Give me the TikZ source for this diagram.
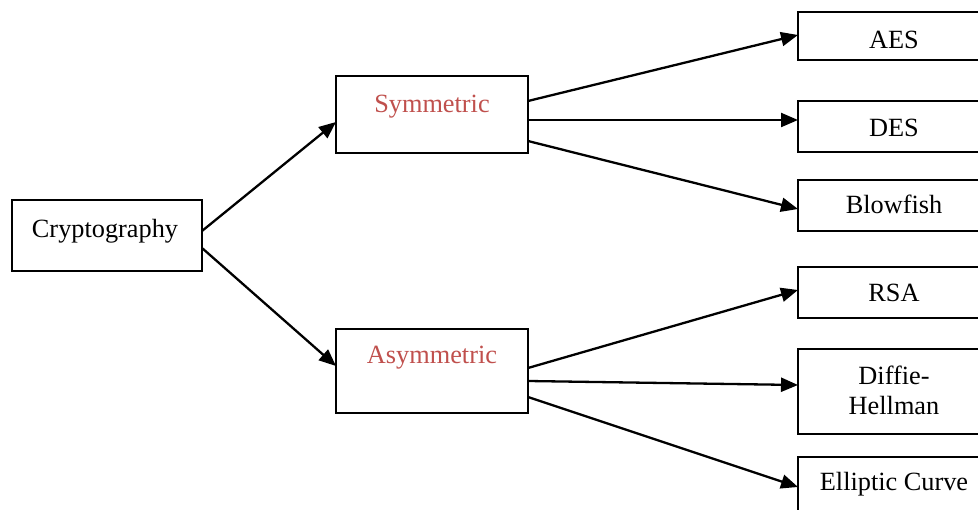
\documentclass[tikz,border=0pt]{standalone}
\usepackage{fontspec}
\setmainfont{Liberation Serif}
\usetikzlibrary{arrows.meta,calc}
\definecolor{labelred}{RGB}{192,80,77}
\begin{document}
\begin{tikzpicture}[x=1pt,y=-1pt,
  box/.style={draw=black,line width=2.2pt,rectangle,anchor=north west,
    inner sep=0pt,outer sep=0pt,minimum width=190},
  txt/.style={anchor=base,inner sep=0pt,
    font=\fontsize{26.3}{30}\selectfont},
  redtxt/.style={txt,text=labelred},
  link/.style={line width=2.3pt,-{Triangle[length=17pt,width=14pt]}}]
\useasboundingbox (0,0) rectangle (978,510);
\fill[white] (0,0) rectangle (978,510);
\clip (0,0) rectangle (978,510);

% boxes
\node[box,minimum height=71] (crypto) at (12,200) {};
\node[box,minimum height=77,minimum width=192] (sym) at (336,76) {};
\node[box,minimum height=84,minimum width=192] (asym) at (336,329) {};
\node[box,minimum width=192,minimum height=48] (aes) at (798,12) {};
\node[box,minimum width=192,minimum height=51] (des) at (798,101) {};
\node[box,minimum width=192,minimum height=51] (blow) at (798,180) {};
\node[box,minimum width=192,minimum height=51] (rsa) at (798,267) {};
\node[box,minimum width=192,minimum height=85] (dh) at (798,349) {};
\node[box,minimum width=192,minimum height=58] (ecc) at (798,457) {};

% labels
\node[txt] (cryptoT) at ($(crypto.north)+(-2,38)$) {Cryptography};
\node[redtxt] (symT) at ($(sym.north)+(0,37)$) {Symmetric};
\node[redtxt] (asymT) at ($(asym.north)+(0,35)$) {Asymmetric};
\node[txt] (aesT) at ($(aes.north)+(0,37)$) {AES};
\node[txt] (desT) at ($(des.north)+(0,36)$) {DES};
\node[txt] (blowT) at ($(blow.north)+(0,34)$) {Blowfish};
\node[txt] (rsaT) at ($(rsa.north)+(0,35)$) {RSA};
\node[txt,align=center] (dhT) at ($(dh.north)+(0,66)$) {Diffie-\\Hellman};
\node[txt] (eccT) at ($(ecc.north)+(0,34)$) {Elliptic Curve};

% connectors
\draw[link] ($(crypto.north east)+(0,31)$) -- ($(sym.north west)+(0,46)$);
\draw[link] ($(crypto.north east)+(0,48)$) -- ($(asym.north west)+(0,37)$);
\draw[link] ($(sym.north east)+(0,25)$) -- ($(aes.north west)+(0,23)$);
\draw[link] ($(sym.north east)+(0,44)$) -- ($(des.north west)+(0,19)$);
\draw[link] ($(sym.north east)+(0,65)$) -- ($(blow.north west)+(0,29)$);
\draw[link] ($(asym.north east)+(0,39)$) -- ($(rsa.north west)+(0,23)$);
\draw[link] ($(asym.north east)+(0,52)$) -- ($(dh.north west)+(0,36)$);
\draw[link] ($(asym.north east)+(0,68)$) -- ($(ecc.north west)+(0,30)$);
\end{tikzpicture}
\end{document}
